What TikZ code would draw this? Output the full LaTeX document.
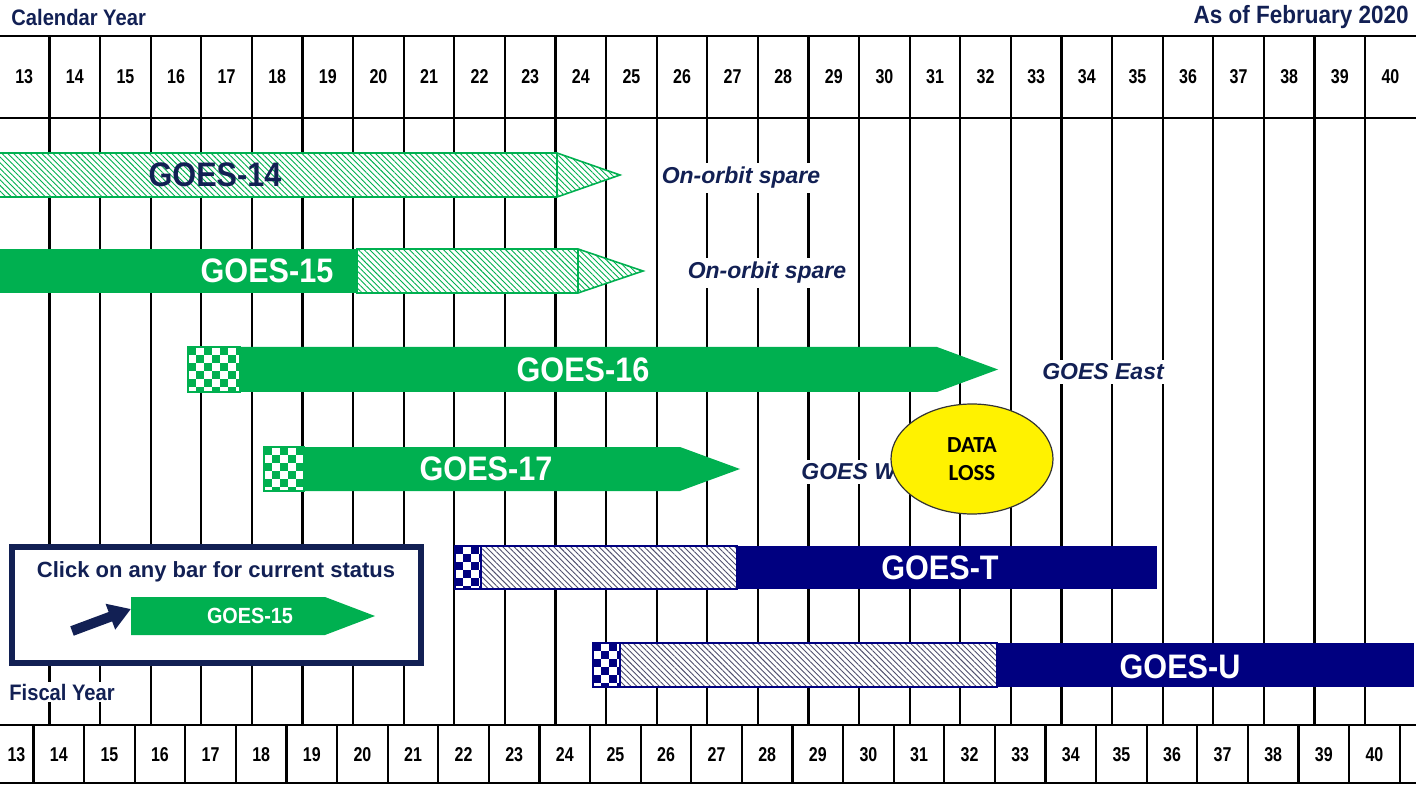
\documentclass[tikz,border=0pt]{standalone}
\usepackage{fontspec}
\setmainfont{Liberation Sans}
\newfontfamily\numf[FakeStretch=0.8]{Liberation Sans}
\newfontfamily\barf[FakeStretch=0.9]{Liberation Sans}
\newfontfamily\calib{Carlito}
\usetikzlibrary{patterns.meta,shapes.geometric,arrows.meta}
\definecolor{grn}{RGB}{0,176,80}
\definecolor{navybar}{RGB}{0,0,128}
\definecolor{navytxt}{RGB}{18,32,84}
\definecolor{hatchnavy}{RGB}{80,80,110}
\newcommand\chkbox[5]{%
  \fill[white] (#1,#2) rectangle (#3,#4);
  \begin{scope}
    \clip (#1,#2) rectangle (#3,#4);
    \foreach \i in {0,...,7}{\foreach \j in {0,...,6}{%
      \pgfmathtruncatemacro\mm{mod(\i+\j,2)}%
      \ifnum\mm=0 \fill[#5] ({#1+\i*8},{#2+\j*8}) rectangle ++(8,8);\fi}}
  \end{scope}
  \draw[#5, line width=0.8pt] (#1,#2) rectangle (#3,#4);
}
\tikzset{
  gridline/.style={line width=1.1pt, black},
  numlabel/.style={font=\numf\bfseries\fontsize{10}{12}\selectfont, inner sep=0pt},
  barlabel/.style={font=\barf\bfseries\fontsize{17}{20}\selectfont, inner sep=0pt},
  statlabel/.style={font=\bfseries\itshape\fontsize{11.5}{14}\selectfont, text=navytxt, fill=white, inner sep=2pt},
  hatchgreen/.style={fill=white, postaction={pattern={Lines[angle=-45,distance=2pt,line width=0.45pt]}, pattern color=grn}},
  hatchnavyst/.style={fill=white, postaction={pattern={Lines[angle=-45,distance=2pt,line width=0.45pt]}, pattern color=hatchnavy}},
  titlelabel/.style={font=\barf\bfseries\fontsize{11.2}{13}\selectfont, text=navytxt, inner sep=1pt}
}
\begin{document}
\begin{tikzpicture}[x=0.5pt,y=-0.5pt]
\useasboundingbox (0,0) rectangle (1416,785);
\fill[white] (0,0) rectangle (1416,785);

% titles
\node[titlelabel, anchor=west] (caltitle) at (9,18) {Calendar Year};
\node[titlelabel, font=\barf\bfseries\fontsize{12.5}{14}\selectfont, anchor=east] (asof) at (1411,17) {As of February 2020};

% grid
\draw[gridline] (0,36) -- (1416,36);
\draw[gridline] (0,118) -- (1416,118);
\draw[gridline] (0,725) -- (1416,725);
\draw[gridline] (0,783) -- (1416,783);
\foreach \k in {0,...,26} \draw[gridline] ({49.5+50.6*\k},36) -- ({49.5+50.6*\k},725);
\foreach \k in {0,...,27} \draw[gridline] ({33.5+50.6*\k},725) -- ({33.5+50.6*\k},783);

% calendar labels
\foreach \n [count=\k from 0] in {13,...,40}
  \node[numlabel] (cy\n) at ({24.2+50.6*\k},77) {\n};
% fiscal labels
\node[numlabel] (fy13) at (16.5,755) {13};
\foreach \n [count=\k from 0] in {14,...,40}
  \node[numlabel] (fy\n) at ({33.5+50.6*\k+25.3},755) {\n};

% GOES-14
\path[hatchgreen] (0,153) -- (557,153) -- (620,175) -- (557,197) -- (0,197) -- cycle;
\draw[grn, line width=0.8pt] (0,153) -- (557,153) -- (620,175) -- (557,197) -- (0,197);
\draw[grn, line width=0.8pt] (557,153) -- (557,197);
\node[barlabel, text=navytxt] (g14) at (215,175) {GOES-14};
\node[statlabel] (s14) at (741,178) {On-orbit spare};

% GOES-15
\fill[grn] (0,249) rectangle (357,293);
\path[hatchgreen] (357,249) -- (578,249) -- (643,271) -- (578,293) -- (357,293) -- cycle;
\draw[grn, line width=0.8pt] (357,249) -- (578,249) -- (643,271) -- (578,293) -- (357,293) -- cycle;
\draw[grn, line width=0.8pt] (578,249) -- (578,293);
\node[barlabel, text=white] (g15) at (267,271) {GOES-15};
\node[statlabel] (s15) at (767,273) {On-orbit spare};

% GOES-16
\chkbox{188}{347}{240}{392}{grn}
\fill[grn] (240,347) -- (937,347) -- (998,369.5) -- (937,392) -- (240,392) -- cycle;
\node[barlabel, text=white] (g16) at (583,370) {GOES-16};
\node[statlabel] (s16) at (1103,372) {GOES East};

% GOES-17
\chkbox{264}{447}{304}{491}{grn}
\fill[grn] (304,447) -- (680,447) -- (740,469) -- (680,491) -- (304,491) -- cycle;
\node[barlabel, text=white] (g17) at (486,469) {GOES-17};
\node[statlabel, anchor=west] (s17) at (797,472) {GOES West};

% GOES-T
\chkbox{455}{546}{481}{589}{navybar}
\path[hatchnavyst] (481,546) rectangle (737,589);
\draw[navybar, line width=0.8pt] (481,546) rectangle (737,589);
\fill[navybar] (737,546) rectangle (1157,589);
\node[barlabel, text=white] (gT) at (940,568) {GOES-T};

% GOES-U
\chkbox{593}{643}{620}{687}{navybar}
\path[hatchnavyst] (620,643) rectangle (997,687);
\draw[navybar, line width=0.8pt] (620,643) rectangle (997,687);
\fill[navybar] (997,643) rectangle (1414,687);
\node[barlabel, text=white] (gU) at (1180,667) {GOES-U};

% data loss
\node[ellipse, draw=black!80, line width=0.6pt, fill=yellow, minimum width=81pt, minimum height=55pt, align=center,
  font=\calib\bfseries\fontsize{11.5}{14}\selectfont, inner sep=0pt] (loss) at (972,459) {DATA\\LOSS};

% legend
\draw[navytxt, line width=2.6pt, fill=white] (12,547) rectangle (421,663);
\node[titlelabel, font=\bfseries\fontsize{11}{13}\selectfont] (legtext) at (216,572) {Click on any bar for current status};
\fill[grn] (131,597) -- (325,597) -- (375,616) -- (325,635) -- (131,635) -- cycle;
\node[font=\barf\bfseries\fontsize{11}{13}\selectfont, text=white, inner sep=0pt] (leg15) at (250,616) {GOES-15};
\coordinate (legtail) at (72,631);
\coordinate (legtip) at (131,609);
\draw[navytxt, line width=5pt, -{Triangle[width=13pt,length=11pt]}] (legtail) -- (legtip);

% fiscal title
\node[titlelabel, fill=white, anchor=west] (fistitle) at (7,692) {Fiscal Year};
\end{tikzpicture}
\end{document}
